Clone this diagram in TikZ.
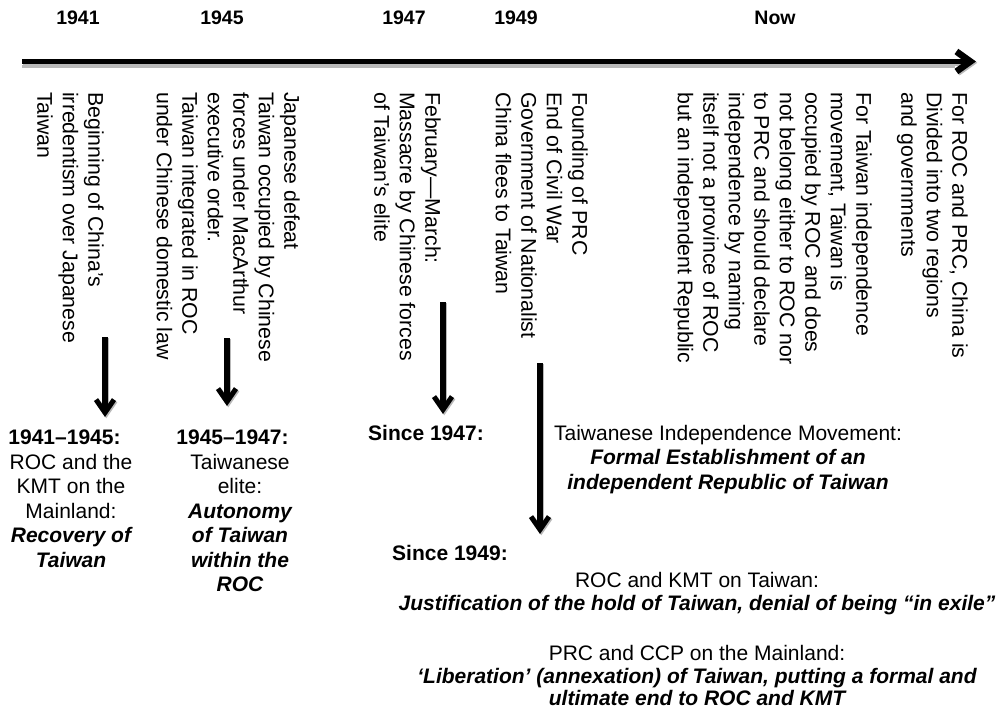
\documentclass[tikz,border=0pt]{standalone}
\usepackage{fontspec}
\setmainfont{Liberation Sans}
\usetikzlibrary{arrows.meta}
\begin{document}
\begin{tikzpicture}[x=1pt,y=-1pt,
  yearlbl/.style={font=\fontsize{19.5}{23}\selectfont\bfseries, inner sep=0},
  vcol/.style={rotate=-90, anchor=north west, align=left, inner sep=0, font=\fontsize{21.3}{25.5}\selectfont},
  btxt/.style={align=center, inner sep=0, anchor=north, font=\fontsize{21}{24.5}\selectfont},
  ctxt/.style={align=center, inner sep=0, anchor=north, font=\fontsize{21}{22.6}\selectfont},
  since/.style={inner sep=0, anchor=north west, font=\fontsize{21}{24.5}\selectfont\bfseries},
  varrow/.style={line width=5.5pt, -{Straight Barb[length=13pt,width=18pt,line width=5pt]}},
  mainarrow/.style={line width=5.5pt, -{Straight Barb[length=14pt,width=20pt,line width=6.5pt]}},
  shade/.style={draw=gray!55, transform canvas={shift={(1.3pt,-1.3pt)}}},
]
\useasboundingbox (0,0) rectangle (1005,715);

% year labels
\node[yearlbl] (y41) at (78,18) {1941};
\node[yearlbl] (y45) at (222,18) {1945};
\node[yearlbl] (y47) at (404,18) {1947};
\node[yearlbl] (y49) at (516,18) {1949};
\node[yearlbl] (ynow) at (775,18) {Now};

% main timeline
\coordinate (ms) at (22,61.5);
\coordinate (me) at (976,61.5);
\coordinate (gs) at (22,66.5);
\coordinate (ge) at (955,66.5);
\draw[gray!55, line width=3pt] (gs) -- (ge);
\draw[mainarrow, shade] (ms) -- (me);
\draw[mainarrow] (ms) -- (me);

% rotated columns
\node[vcol] (c41) at (104,92) {Beginning of China’s\\irredentism over Japanese\\Taiwan};
\node[vcol] (c45) at (300,92) {Japanese defeat\\Taiwan occupied by Chinese\\forces under MacArthur\\executive order.\\Taiwan integrated in ROC\\under Chinese domestic law};
\node[vcol] (c47) at (441,92) {February—March:\\Massacre by Chinese forces\\of Taiwan’s elite};
\node[vcol] (c49) at (588,92) {Founding of PRC\\End of Civil War\\Government of Nationalist\\China flees to Taiwan};
\node[vcol] (cti) at (872,92) {For Taiwan independence\\movement, Taiwan is\\occupied by ROC and does\\not belong either to ROC nor\\to PRC and should declare\\independence by naming\\itself not a province of ROC\\but an independent Republic};
\node[vcol] (cnow) at (968,92) {For ROC and PRC, China is\\Divided into two regions\\and governments};

% vertical arrows
\coordinate (a1s) at (105,337); \coordinate (a1e) at (105,417);
\coordinate (a2s) at (227,338); \coordinate (a2e) at (227,406);
\coordinate (a3s) at (443,302); \coordinate (a3e) at (443,414);
\coordinate (a4s) at (540,363); \coordinate (a4e) at (540,534);
\foreach \s/\e in {a1s/a1e,a2s/a2e,a3s/a3e,a4s/a4e}{
  \draw[varrow, shade] (\s) -- (\e);
  \draw[varrow] (\s) -- (\e);
}

% bottom blocks
\node[btxt] (b41) at (71,430) {{\bfseries 1941–1945:\hspace*{13pt}}\\ROC and the\\KMT on the\\Mainland:\\{\bfseries\itshape Recovery of}\\{\bfseries\itshape Taiwan}};
\node[btxt] (b45) at (240,430) {{\bfseries 1945–1947:\hspace*{15pt}}\\Taiwanese\\elite:\\{\bfseries\itshape Autonomy}\\{\bfseries\itshape of Taiwan}\\{\bfseries\itshape within the}\\{\bfseries\itshape ROC}};
\node[since] (s47) at (368,425) {Since 1947:};
\node[btxt] (bti) at (728,425) {Taiwanese Independence Movement:\\{\bfseries\itshape Formal Establishment of an}\\{\bfseries\itshape independent Republic of Taiwan}};
\node[since] (s49) at (392,545) {Since 1949:};
\node[ctxt] (broc) at (697,572) {ROC and KMT on Taiwan:\\{\bfseries\itshape Justification of the hold of Taiwan, denial of being “in exile”}};
\node[ctxt] (bprc) at (697,645) {PRC and CCP on the Mainland:\\{\bfseries\itshape ‘Liberation’ (annexation) of Taiwan, putting a formal and}\\{\bfseries\itshape ultimate end to ROC and KMT}};
\end{tikzpicture}
\end{document}
